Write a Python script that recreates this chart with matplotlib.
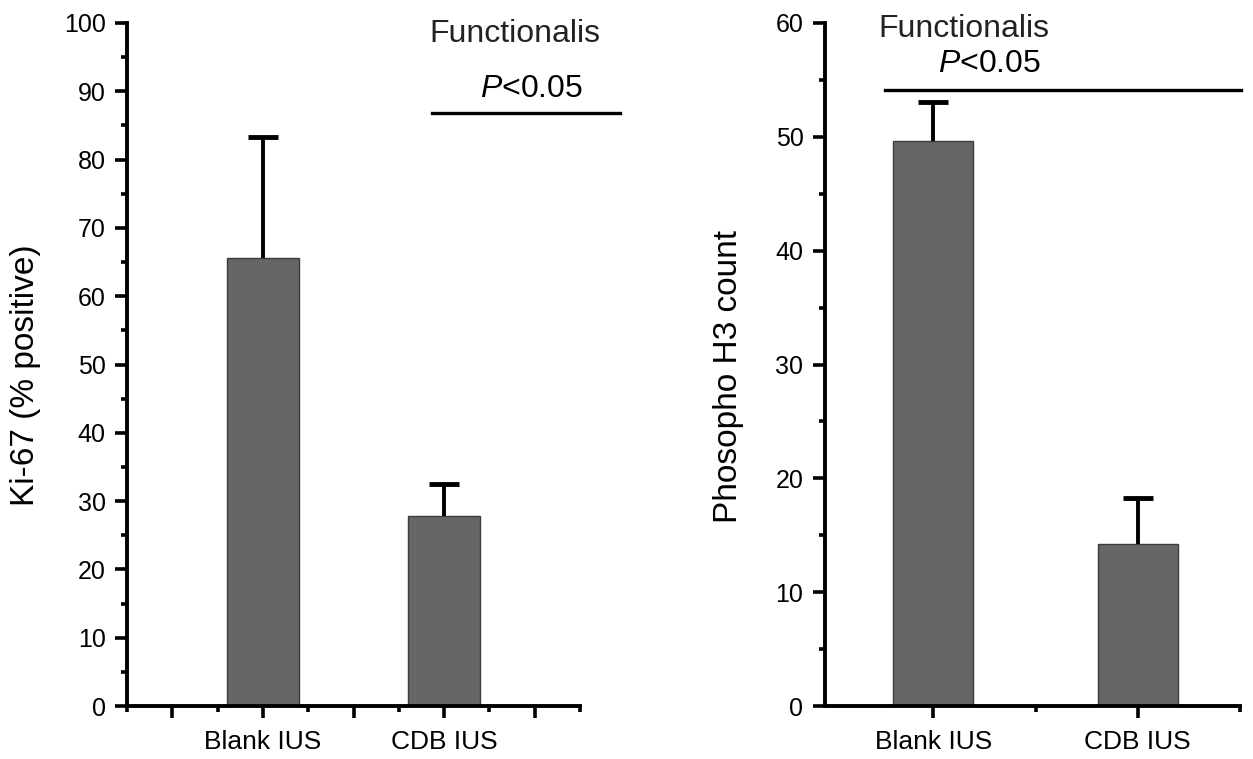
import numpy as np
import matplotlib.pyplot as plt
from matplotlib.ticker import FixedLocator, MultipleLocator

plt.rcParams['font.family'] = ['Liberation Sans', 'DejaVu Sans']
plt.rcParams['mathtext.fontset'] = 'custom'
plt.rcParams['mathtext.it'] = 'Liberation Sans:italic'
plt.rcParams['mathtext.rm'] = 'Liberation Sans'

# data
groups = ['Blank IUS', 'CDB IUS']
ki67_mean = [65.6, 27.8]
ki67_err = [17.7, 4.7]
ph3_mean = [49.6, 14.2]
ph3_err = [3.5, 4.1]

bar_color = '#666666'
edge_color = '#3c3c3c'


def style_axes(ax):
    for side in ['top', 'right']:
        ax.spines[side].set_visible(False)
    for side in ['left', 'bottom']:
        ax.spines[side].set_linewidth(2.8)
    ax.tick_params(which='major', direction='out', length=8.5, width=2.6, labelsize=18, pad=7)
    ax.tick_params(which='minor', direction='out', length=4.5, width=2.6)
    ax.tick_params(axis='x', labelsize=19, pad=9)


def up_errorbar(ax, x, y, err):
    # only the upper half of the error bar is shown
    _, caps, _ = ax.errorbar(x, y, yerr=[[0] * len(err), err], fmt='none', ecolor='black',
                             elinewidth=2.8, capsize=11, capthick=3.5, zorder=3)
    caps[0].set_visible(False)


fig = plt.figure(figsize=(12.53, 7.59), dpi=100)

# ---- left panel: Ki-67
ax1 = fig.add_axes([0.1014, 0.0698, 0.3615, 0.8999])
x1 = [1, 3]
ax1.bar(x1, ki67_mean, width=0.8, color=bar_color, edgecolor=edge_color, linewidth=1, zorder=2)
up_errorbar(ax1, x1, ki67_mean, ki67_err)
ax1.set_xlim(-0.5, 4.5)
ax1.set_ylim(0, 100)
ax1.xaxis.set_major_locator(FixedLocator([0, 1, 2, 3, 4]))
ax1.set_xticklabels(['', groups[0], '', groups[1], ''])
ax1.xaxis.set_minor_locator(FixedLocator([-0.5, 0.5, 1.5, 2.5, 3.5, 4.5]))
ax1.yaxis.set_major_locator(MultipleLocator(10))
ax1.yaxis.set_minor_locator(MultipleLocator(5))
style_axes(ax1)
ax1.set_ylabel('Ki-67 (% positive)', fontsize=24)
ax1.yaxis.set_label_coords(-0.19, 0.485)
ax1.plot([2.87, 4.94], [86.8, 86.8], color='black', linewidth=2.4, clip_on=False)
ax1.text(3.96, 90.4, r'$\it{P}$<0.05', fontsize=23, ha='center', va='center')
ax1.text(3.78, 98.4, 'Functionalis', fontsize=23, ha='center', va='center', color='#222222')

# ---- right panel: phospho H3
ax2 = fig.add_axes([0.6584, 0.0698, 0.3312, 0.8999])
x2 = [0, 1]
ax2.bar(x2, ph3_mean, width=0.39, color=bar_color, edgecolor=edge_color, linewidth=1, zorder=2)
up_errorbar(ax2, x2, ph3_mean, ph3_err)
ax2.set_xlim(-0.53, 1.5)
ax2.set_ylim(0, 60)
ax2.xaxis.set_major_locator(FixedLocator(x2))
ax2.set_xticklabels(groups)
ax2.xaxis.set_minor_locator(FixedLocator([0.5, 1.5]))
ax2.yaxis.set_major_locator(MultipleLocator(10))
ax2.yaxis.set_minor_locator(MultipleLocator(5))
style_axes(ax2)
ax2.set_ylabel('Phosopho H3 count', fontsize=24)
ax2.yaxis.set_label_coords(-0.195, 0.482)
ax2.plot([-0.235, 1.505], [54.1, 54.1], color='black', linewidth=2.4, clip_on=False)
ax2.text(0.275, 56.4, r'$\it{P}$<0.05', fontsize=23, ha='center', va='center')
ax2.text(0.15, 59.5, 'Functionalis', fontsize=23, ha='center', va='center', color='#222222')

fig.savefig('out.png', dpi=100)
